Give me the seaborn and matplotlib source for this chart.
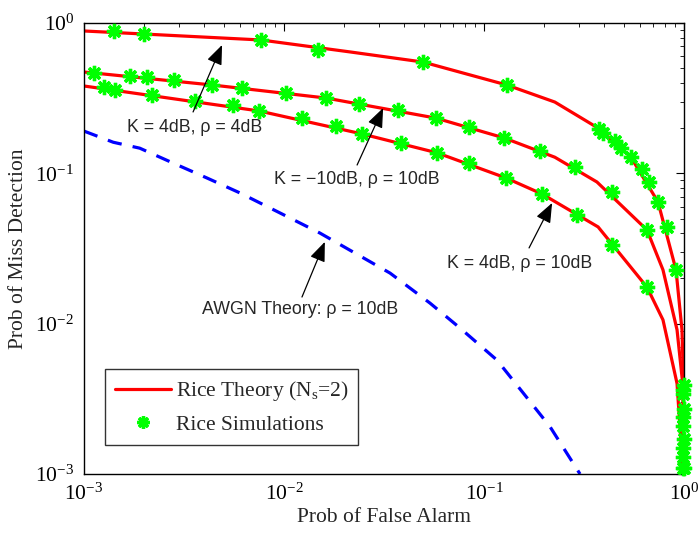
import numpy as np
import pandas as pd
import matplotlib
matplotlib.use("Agg")
import matplotlib.pyplot as plt
from matplotlib.lines import Line2D
from matplotlib.ticker import LogLocator, NullFormatter
import seaborn as sns

# ---- data ----
# Rice theory, K = 4dB, rho = 4dB
top_line_pf = [0.001, 0.00767, 0.0214, 0.0495, 0.130, 0.226, 0.372, 0.543, 0.741, 0.912, 0.977, 0.995, 0.9995]
top_line_pm = [0.885, 0.771, 0.642, 0.550, 0.387, 0.298, 0.200, 0.128, 0.0646, 0.0228, 0.0091, 0.004, 0.001]
top_sim_pf = [0.00141, 0.002, 0.00767, 0.0148, 0.0495, 0.130, 0.376, 0.394, 0.452, 0.484, 0.543, 0.617,
              0.668, 0.741, 0.822, 0.912, 0.995, 0.995, 0.995, 0.995]
top_sim_pm = [0.885, 0.845, 0.771, 0.661, 0.550, 0.387, 0.197, 0.185, 0.164, 0.147, 0.128, 0.107,
              0.0876, 0.0646, 0.044, 0.0228, 0.0039, 0.0027, 0.0017, 0.0011]

# Rice theory, K = -10dB, rho = 10dB
mid_line_pf = [0.001, 0.00437, 0.0162, 0.0575, 0.126, 0.226, 0.367, 0.653, 0.785, 0.923, 0.985, 0.998]
mid_line_pm = [0.472, 0.387, 0.317, 0.233, 0.172, 0.128, 0.0876, 0.042, 0.0228, 0.0091, 0.004, 0.001]
mid_sim_pf = [0.00112, 0.0017, 0.00207, 0.00282, 0.00437, 0.00617, 0.0102, 0.0162, 0.0237, 0.0372, 0.0575,
              0.0841, 0.126, 0.191, 0.285, 0.437, 0.653, 0.99, 0.99, 0.99]
mid_sim_pm = [0.465, 0.445, 0.436, 0.418, 0.387, 0.370, 0.342, 0.317, 0.289, 0.264, 0.233,
              0.203, 0.172, 0.141, 0.110, 0.0751, 0.042, 0.0034, 0.0021, 0.0013]

# Rice theory, K = 4dB, rho = 10dB
bot_line_pf = [0.001, 0.0075, 0.0245, 0.0582, 0.129, 0.195, 0.372, 0.653, 0.785, 0.923, 0.99]
bot_line_pm = [0.381, 0.260, 0.183, 0.137, 0.0931, 0.0729, 0.044, 0.0175, 0.0106, 0.004, 0.001]
bot_sim_pf = [0.00126, 0.00143, 0.00219, 0.00359, 0.00556, 0.0075, 0.0123, 0.0182, 0.0245, 0.0385, 0.0582,
              0.0841, 0.129, 0.195, 0.292, 0.437, 0.653, 0.985, 0.985, 0.985, 0.985]
bot_sim_pm = [0.375, 0.358, 0.332, 0.303, 0.285, 0.260, 0.233, 0.206, 0.183, 0.159, 0.137,
              0.117, 0.0931, 0.0729, 0.0528, 0.0334, 0.0175, 0.0036, 0.0024, 0.0015, 0.0011]

# AWGN theory, rho = 10dB
awgn_pf = [0.001, 0.0014, 0.0019, 0.00279, 0.00412, 0.00603, 0.00955, 0.0151, 0.0339, 0.0537, 0.0759,
           0.116, 0.157, 0.214, 0.302]
awgn_pm = [0.191, 0.161, 0.147, 0.117, 0.0931, 0.074, 0.0545, 0.0401, 0.0217, 0.0137, 0.00935,
           0.00573, 0.00346, 0.00206, 0.001]

legend_labels = [r"Rice Theory (N$_{\mathrm{s}}$=2)", "Rice Simulations"]
annotations = ["K = 4dB, \u03c1 = 4dB", "K = \u221210dB, \u03c1 = 10dB",
               "K = 4dB, \u03c1 = 10dB", "AWGN Theory: \u03c1 = 10dB"]

# ---- style ----
sns.set_style("white")
plt.rcParams["font.family"] = ["Liberation Serif", "DejaVu Serif"]
plt.rcParams["mathtext.fontset"] = "custom"
plt.rcParams["mathtext.rm"] = "Liberation Serif"
plt.rcParams["mathtext.it"] = "Liberation Serif:italic"
plt.rcParams["mathtext.bf"] = "Liberation Serif:bold"

RED = "#ff0000"
GREEN = "#00ff00"
BLUE = "#0000ff"
STAR = (8, 2, 0)

fig = plt.figure(figsize=(7.0, 5.36), dpi=100)
ax = fig.add_axes([84 / 700, 62 / 536, 600 / 700, 451 / 536])

for pf, pm in [(top_line_pf, top_line_pm), (mid_line_pf, mid_line_pm), (bot_line_pf, bot_line_pm)]:
    df = pd.DataFrame({"pf": pf, "pm": pm})
    sns.lineplot(data=df, x="pf", y="pm", ax=ax, color=RED, lw=2.3, sort=False,
                 estimator=None, solid_joinstyle="miter", zorder=2)

dfa = pd.DataFrame({"pf": awgn_pf, "pm": awgn_pm})
sns.lineplot(data=dfa, x="pf", y="pm", ax=ax, color=BLUE, lw=2.3, sort=False,
             estimator=None, zorder=2, dashes=False, linestyle=(0, (4.5, 3.5)))

for pf, pm in [(top_sim_pf, top_sim_pm), (mid_sim_pf, mid_sim_pm), (bot_sim_pf, bot_sim_pm)]:
    df = pd.DataFrame({"pf": pf, "pm": pm})
    sns.lineplot(data=df, x="pf", y="pm", ax=ax, color=GREEN, linestyle="", marker=STAR,
                 markersize=11, markeredgewidth=2.4, markeredgecolor=GREEN, sort=False,
                 estimator=None, clip_on=False, zorder=3)

ax.set_xscale("log")
ax.set_yscale("log")
ax.set_xlim(1e-3, 1)
ax.set_ylim(1e-3, 1)

ax.xaxis.set_major_locator(LogLocator(base=10, numticks=10))
ax.yaxis.set_major_locator(LogLocator(base=10, numticks=10))
ax.xaxis.set_minor_locator(LogLocator(base=10, subs=np.arange(2, 10), numticks=20))
ax.yaxis.set_minor_locator(LogLocator(base=10, subs=np.arange(2, 10), numticks=20))
ax.xaxis.set_minor_formatter(NullFormatter())
ax.yaxis.set_minor_formatter(NullFormatter())
ax.tick_params(which="both", direction="in", top=True, right=True, colors="black",
               labelsize=15.5)
ax.tick_params(which="major", length=6, width=0.8, pad=7)
ax.tick_params(which="minor", length=3, width=0.6)
for s in ax.spines.values():
    s.set_color("black")
    s.set_linewidth(1.0)

ax.set_xlabel("Prob of False Alarm", fontsize=15.5, labelpad=2)
ax.set_ylabel("Prob of Miss Detection", fontsize=15.5, labelpad=5)

# annotations (text centre, arrow tail, arrow tip) in data coords
ann_specs = [
    ((0.00359, 0.203), (0.00351, 0.256), (0.0049, 0.714)),
    ((0.0232, 0.0903), (0.0232, 0.1136), (0.0313, 0.272)),
    ((0.150, 0.0253), (0.168, 0.0319), (0.219, 0.0635)),
    ((0.012, 0.01233), (0.0123, 0.01504), (0.016, 0.0350)),
]
for text, (tc, tail, tip) in zip(annotations, ann_specs):
    ax.text(tc[0], tc[1], text, ha="center", va="center", fontsize=12.8,
            family=["Liberation Sans", "DejaVu Sans"], zorder=5)
    ax.annotate("", xy=tip, xytext=tail,
                arrowprops=dict(arrowstyle="-|>,head_length=0.6,head_width=0.24",
                                color="black", lw=0.9,
                                mutation_scale=20, shrinkA=0, shrinkB=0), zorder=5)

handles = [Line2D([], [], color=RED, lw=2.3),
           Line2D([], [], color=GREEN, linestyle="", marker=STAR, markersize=9,
                  markeredgewidth=2.4, markeredgecolor=GREEN)]
leg = ax.legend(handles, legend_labels, loc="upper left", bbox_to_anchor=(0.035, 0.232),
                borderaxespad=0, frameon=True, fancybox=False, fontsize=15.5,
                handlelength=2.6, handletextpad=0.25, borderpad=0.45, labelspacing=0.55,
                edgecolor="black")
leg.get_frame().set_linewidth(1.0)

fig.savefig("out.png", dpi=100)
